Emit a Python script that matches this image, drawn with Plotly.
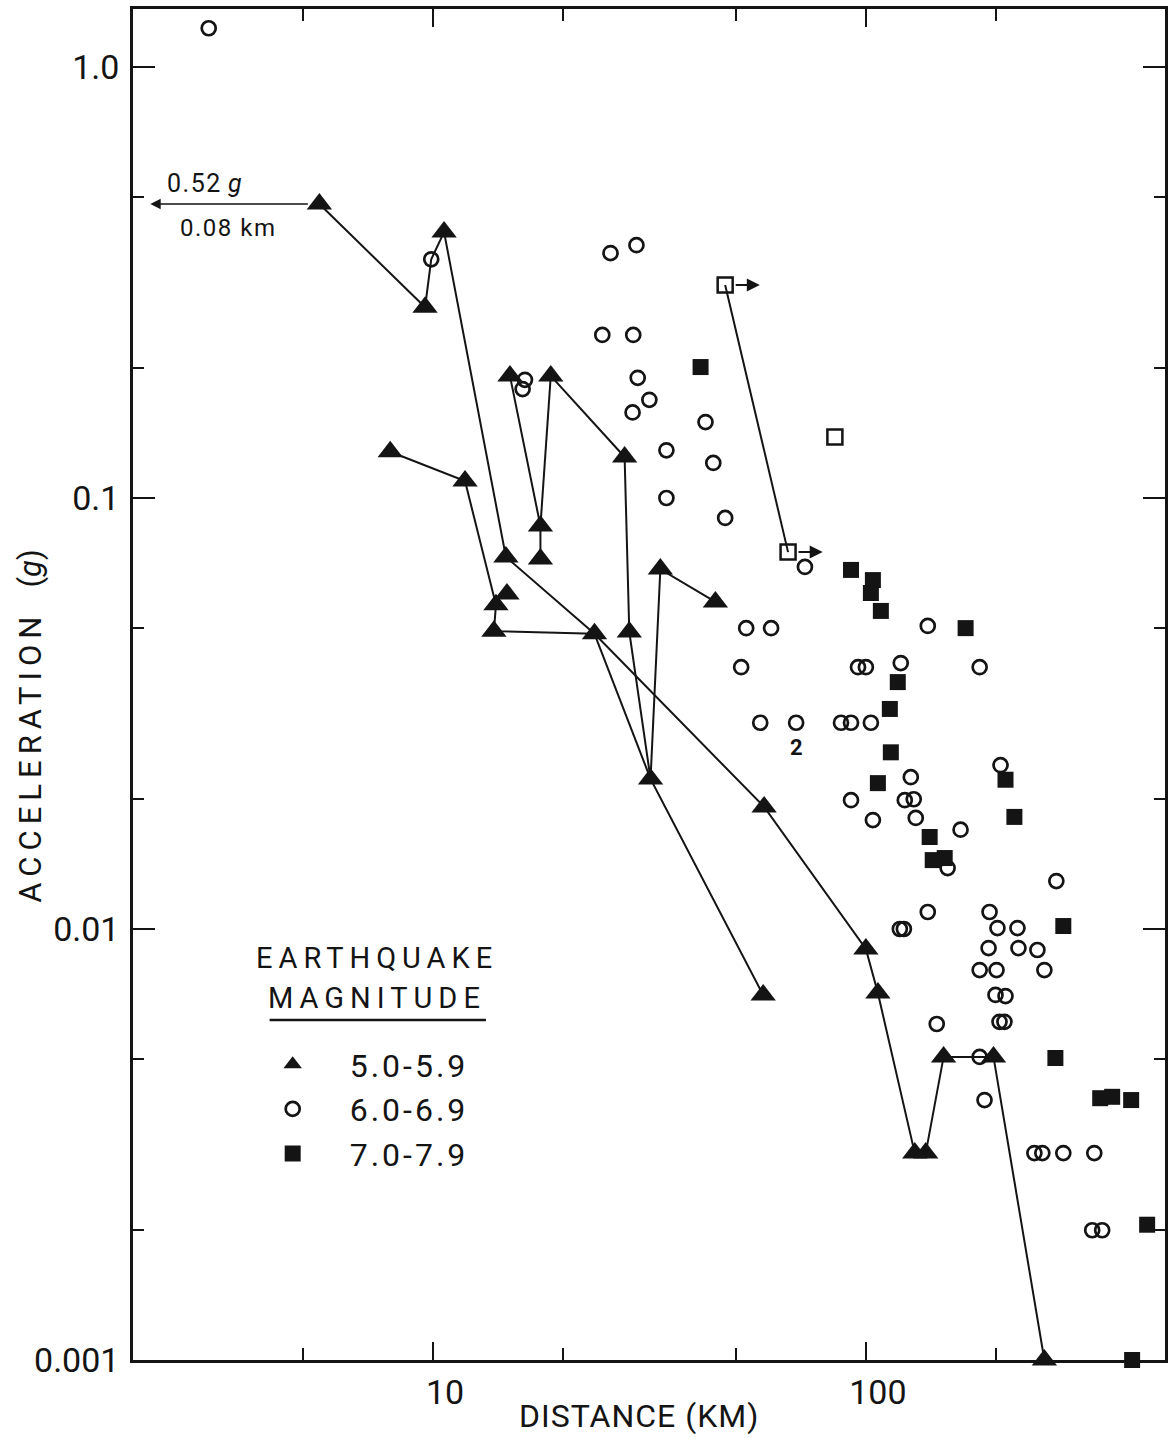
import math
import plotly.graph_objects as go

# ---------------- data ----------------
# Magnitude 5.0-5.9 (filled triangles): distance (km), peak acceleration (g)
tri_dist = [5.46, 9.58, 10.6, 7.96, 11.85, 13.97, 14.81, 13.82, 14.73, 23.6,
            28.4, 33.5, 44.9, 31.8, 58.2, 15.05, 18.7, 27.7, 17.7, 17.7,
            100.0, 106.6, 129.7, 137.5, 151.2, 197.2, 258.5, 57.9]
tri_acc = [0.481, 0.277, 0.414, 0.128, 0.1095, 0.0565, 0.0599, 0.0491, 0.073, 0.0484,
           0.0489, 0.0684, 0.0574, 0.0223, 0.0192, 0.192, 0.192, 0.1245, 0.0861, 0.0722,
           0.00899, 0.0071, 0.00302, 0.00302, 0.00505, 0.00505, 0.001, 0.00703]

# Magnitude 6.0-6.9 (open circles)
circ_dist = [3.03, 9.9, 25.7, 29.5, 24.6, 29.0, 16.3, 16.1, 29.7, 31.6,
             28.9, 34.6, 42.6, 44.4, 34.6, 47.3, 72.3, 52.9, 60.4, 51.5,
             57.0, 69.0, 87.6, 92.4, 102.7, 95.9, 100.0, 120.4, 139.0, 183.2,
             92.4, 103.8, 127.0, 123.0, 129.0, 130.4, 165.5, 204.7, 154.5, 275.5,
             139.0, 119.8, 122.4, 193.1, 201.4, 224.0, 192.1, 225.2, 249.1, 183.2,
             200.4, 258.5, 199.3, 210.2, 203.6, 209.0, 145.8, 183.2, 188.0, 245.1,
             255.7, 285.9, 337.1, 333.4, 351.6]
circ_acc = [1.23, 0.358, 0.370, 0.386, 0.239, 0.239, 0.188, 0.179, 0.190, 0.169,
            0.158, 0.129, 0.150, 0.1206, 0.100, 0.0899, 0.0692, 0.0499, 0.0499, 0.0405,
            0.0301, 0.0301, 0.0301, 0.0301, 0.0301, 0.0405, 0.0405, 0.0414, 0.0505, 0.0405,
            0.0199, 0.0179, 0.0225, 0.0199, 0.0200, 0.0181, 0.0170, 0.0240, 0.01385, 0.01292,
            0.01095, 0.0100, 0.0100, 0.01095, 0.01005, 0.01005, 0.00903, 0.00903, 0.00894, 0.00803,
            0.00803, 0.00803, 0.00703, 0.00699, 0.00609, 0.00609, 0.00602, 0.00505, 0.00401, 0.00302,
            0.00302, 0.00302, 0.00302, 0.00200, 0.00200]

# Magnitude 7.0-7.9 (filled squares)
sq_dist = [41.5, 92.4, 103.8, 102.7, 108.3, 170.0, 118.5, 113.6, 114.2, 106.6,
           210.2, 220.4, 140.4, 142.7, 152.1, 285.9, 274.1, 347.9, 370.8, 410.2,
           446.6, 412.3]
sq_acc = [0.2013, 0.0681, 0.0645, 0.0602, 0.0547, 0.0499, 0.0374, 0.0324, 0.0257, 0.0218,
          0.0222, 0.0182, 0.01635, 0.01445, 0.01461, 0.01016, 0.00502, 0.00405, 0.00408, 0.00401,
          0.00206, 0.001]

# Open squares (distance is a lower bound, arrows)
osq_dist = [47.3, 66.1, 84.8]
osq_acc = [0.312, 0.0749, 0.1385]

# Recordings of the same earthquake joined by lines
chain_a_dist = [5.46, 9.58, 9.9, 10.6, 14.73, 23.6, 58.2, 100.0, 106.6, 129.7, 137.5, 151.2, 183.2, 197.2, 258.5]
chain_a_acc = [0.481, 0.277, 0.358, 0.414, 0.073, 0.0484, 0.0192, 0.00899, 0.0071, 0.00302, 0.00302, 0.00505, 0.00505, 0.00505, 0.001]
chain_b_dist = [7.96, 11.85, 13.97, 13.82, 23.6]
chain_b_acc = [0.128, 0.1095, 0.0565, 0.0491, 0.0484]
chain_c_dist = [15.05, 17.7, 17.7]
chain_c_acc = [0.192, 0.0861, 0.0722]
chain_d_dist = [18.7, 17.7]
chain_d_acc = [0.192, 0.0861]
chain_e_dist = [18.7, 27.7, 28.4, 31.8, 57.9]
chain_e_acc = [0.192, 0.1245, 0.0489, 0.0223, 0.00703]
chain_f_dist = [44.9, 33.5, 31.8]
chain_f_acc = [0.0574, 0.0684, 0.0223]
chain_g_dist = [23.6, 31.8]
chain_g_acc = [0.0484, 0.0223]
chain_o_dist = [47.3, 66.1]
chain_o_acc = [0.312, 0.0749]

# Axis ticks
x_major = [10, 100]
x_major_text = ["10", "100"]
x_minor = [5, 20, 50, 200]
y_major = [0.001, 0.01, 0.1, 1.0]
y_major_text = ["0.001", "0.01", "0.1", "1.0"]
y_minor = [0.002, 0.005, 0.02, 0.05, 0.2, 0.5]

legend_names = ["5.0-5.9", "6.0-6.9", "7.0-7.9"]

# ---------------- figure ----------------
INK = "#141414"
FONT = "Roboto"
X_RANGE = [0.3065, 2.6912]
Y_RANGE = [-3.0, 0.1346]


def spaced(text, px):
    return '<span style="letter-spacing:%spx">%s</span>' % (px, text)


fig = go.Figure()

chains = [(chain_a_dist, chain_a_acc), (chain_b_dist, chain_b_acc), (chain_c_dist, chain_c_acc),
          (chain_d_dist, chain_d_acc), (chain_e_dist, chain_e_acc), (chain_f_dist, chain_f_acc),
          (chain_g_dist, chain_g_acc), (chain_o_dist, chain_o_acc)]
lx, ly = [], []
for cx, cy in chains:
    lx += list(cx) + [None]
    ly += list(cy) + [None]
fig.add_trace(go.Scatter(x=lx, y=ly, mode="lines", line=dict(color=INK, width=2),
                         showlegend=False, hoverinfo="skip", cliponaxis=False))

fig.add_trace(go.Scatter(x=osq_dist, y=osq_acc, mode="markers", showlegend=False,
                         marker=dict(symbol="square-open", size=15, color=INK, line=dict(width=2.5)),
                         cliponaxis=False))
fig.add_trace(go.Scatter(x=tri_dist, y=tri_acc, mode="markers", name=spaced(legend_names[0], 3),
                         marker=dict(symbol="triangle-up", size=22, color=INK, line=dict(width=0)),
                         cliponaxis=False))
fig.add_trace(go.Scatter(x=circ_dist, y=circ_acc, mode="markers", name=spaced(legend_names[1], 3),
                         marker=dict(symbol="circle-open", size=14, color=INK, line=dict(width=2.7)),
                         cliponaxis=False))
fig.add_trace(go.Scatter(x=sq_dist, y=sq_acc, mode="markers", name=spaced(legend_names[2], 3),
                         marker=dict(symbol="square", size=16, color=INK, line=dict(width=0)),
                         cliponaxis=False))

# arrows: lower-bound distances for the first two open squares
for d, a in zip(osq_dist[:2], osq_acc[:2]):
    fig.add_annotation(x=math.log10(d) + 0.08, y=math.log10(a), ax=math.log10(d), ay=math.log10(a),
                       xref="x", yref="y", axref="x", ayref="y", text="", showarrow=True,
                       arrowhead=2, arrowsize=1.3, arrowwidth=2, arrowcolor=INK, startstandoff=9)

# 0.52 g at 0.08 km, off scale to the left
fig.add_annotation(x=X_RANGE[0] + 0.04, y=math.log10(tri_acc[0]), ax=math.log10(tri_dist[0]),
                   ay=math.log10(tri_acc[0]), xref="x", yref="y", axref="x", ayref="y", text="",
                   showarrow=True, arrowhead=2, arrowsize=1.3, arrowwidth=1.6, arrowcolor=INK,
                   startstandoff=10)

center = dict(xanchor="center", yanchor="middle", showarrow=False)
fig.add_annotation(x=0.0696, y=0.8712, xref="paper", yref="paper",
                   text=spaced("0.52", 1.5) + " <i>g</i>",
                   font=dict(family=FONT, size=25, color=INK), **center)
fig.add_annotation(x=0.0918, y=0.8379, xref="paper", yref="paper", text=spaced("0.08 km", 1.5),
                   font=dict(family=FONT, size=24, color=INK), **center)

# "2" (two coincident records)
fig.add_annotation(x=0.6425, y=0.4530, xref="paper", yref="paper", text="<b>2</b>",
                   font=dict(family=FONT, size=22, color=INK), **center)

# legend heading
fig.add_annotation(x=0.2367, y=0.2976, xref="paper", yref="paper", text=spaced("EARTHQUAKE", 6),
                   font=dict(family=FONT, size=29, color=INK), **center)
fig.add_annotation(x=0.2367, y=0.2680, xref="paper", yref="paper", text=spaced("MAGNITUDE", 6),
                   font=dict(family=FONT, size=29, color=INK), **center)
fig.add_shape(type="line", xref="paper", yref="paper", x0=0.1324, x1=0.3420, y0=0.2517, y1=0.2517,
              line=dict(color=INK, width=2.5))

# axis titles
fig.add_annotation(x=-0.0995, y=0.4690, xref="paper", yref="paper", textangle=-90,
                   text=spaced("ACCELERATION", 6) + "&nbsp;&nbsp;&nbsp;(<i>g</i>)",
                   font=dict(family=FONT, size=31, color=INK), **center)
fig.add_annotation(x=0.4899, y=-0.0415, xref="paper", yref="paper",
                   text=spaced("DISTANCE (KM)", 1),
                   font=dict(family=FONT, size=32, color=INK), **center)

axis_common = dict(type="log", showgrid=False, zeroline=False, showline=True, linewidth=2.5,
                   linecolor=INK, mirror="ticks", ticks="inside", tickwidth=2, tickcolor=INK,
                   tickfont=dict(family=FONT, size=34, color=INK))

fig.update_xaxes(range=X_RANGE, tickmode="array", tickvals=x_major, ticktext=x_major_text,
                 ticklen=18, ticklabelstandoff=0, ticklabelshift=12,
                 minor=dict(tickmode="array", tickvals=x_minor, ticks="inside", ticklen=12,
                            tickwidth=2, tickcolor=INK, showgrid=False),
                 **axis_common)
fig.update_yaxes(range=Y_RANGE, tickmode="array", tickvals=y_major, ticktext=y_major_text,
                 ticklen=22, ticklabelstandoff=4,
                 minor=dict(tickmode="array", tickvals=y_minor, ticks="inside", ticklen=11,
                            tickwidth=2, tickcolor=INK, showgrid=False),
                 **axis_common)

fig.update_layout(
    width=1172, height=1438,
    margin=dict(l=133, r=4, t=9, b=78, pad=0),
    paper_bgcolor="white", plot_bgcolor="white",
    font=dict(family=FONT, color=INK),
    showlegend=True,
    legend=dict(x=0.0995, y=0.2391, xanchor="left", yanchor="top",
                font=dict(family=FONT, size=32, color=INK),
                bgcolor="rgba(0,0,0,0)", borderwidth=0, itemwidth=104,
                tracegroupgap=0),
)

fig.write_html("out.html", config={"displayModeBar": False},
               post_script="document.body.style.margin='0px';")
